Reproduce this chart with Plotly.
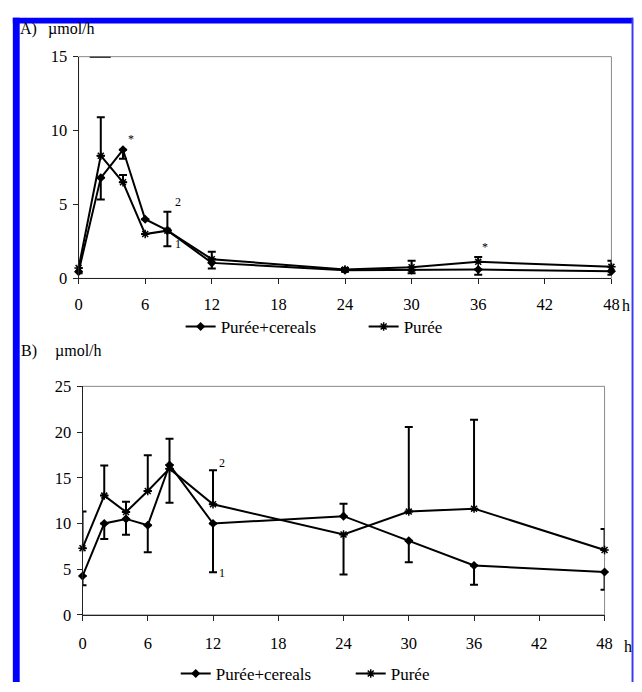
import plotly.graph_objects as go

# ---------------- data ----------------
hours = [0, 2, 4, 6, 8, 12, 24, 30, 36, 48]
x_ticks = [0, 6, 12, 18, 24, 30, 36, 42, 48]

# Panel A (µmol/h)
a_cereals = [0.45, 6.8, 8.7, 4.0, 3.25, 1.05, 0.55, 0.55, 0.6, 0.48]
a_cereals_minus = [0.1, 1.46, 0.6, 0.0, 1.07, 0.38, 0.1, 0.2, 0.36, 0.24]
a_cereals_plus = [0, 0, 0, 0, 0, 0, 0, 0, 0, 0]
a_puree = [0.7, 8.3, 6.5, 3.0, 3.23, 1.3, 0.6, 0.75, 1.12, 0.78]
a_puree_plus = [0.0, 2.6, 0.5, 0.0, 1.27, 0.5, 0.1, 0.45, 0.33, 0.42]
a_puree_minus = [0, 0, 0, 0, 0, 0, 0, 0, 0, 0]
a_y_ticks = [0, 5, 10, 15]

# Panel B (µmol/h)
b_cereals = [4.25, 10.0, 10.5, 9.8, 16.4, 10.0, 10.8, 8.1, 5.4, 4.7]
b_cereals_minus = [1.0, 1.7, 1.72, 2.94, 4.13, 5.34, 0.0, 2.34, 2.1, 1.95]
b_cereals_plus = [0, 0, 0, 0, 0, 0, 1.35, 0, 0, 0]
b_puree = [7.3, 13.05, 11.25, 13.55, 16.0, 12.1, 8.8, 11.3, 11.62, 7.1]
b_puree_plus = [4.0, 3.3, 1.12, 3.9, 3.26, 3.72, 0.0, 9.24, 9.74, 2.3]
b_puree_minus = [0, 0, 0, 0, 0, 0, 4.37, 0, 0, 0]
b_y_ticks = [0, 5, 10, 15, 20, 25]

series_names = ["Purée+cereals", "Purée"]

# ---------------- style ----------------
W, H = 642, 692
FONT = "Liberation Serif"
BLACK = "black"


def px_x(p):
    return p / W


def px_y(p):
    return 1 - p / H


fig = go.Figure()


def add_series(xa, ya, y, plus, minus, name, symbol, legend, msize, mline):
    fig.add_trace(go.Scatter(
        x=hours, y=y, name=name, mode="lines+markers",
        xaxis=xa, yaxis=ya, legend=legend, cliponaxis=False,
        line=dict(color=BLACK, width=2),
        marker=dict(symbol=symbol, size=msize, color=BLACK,
                    line=dict(color=BLACK, width=mline)),
        error_y=dict(type="data", symmetric=False, array=plus,
                     arrayminus=minus, color=BLACK, thickness=2, width=4),
    ))


add_series("x", "y", a_cereals, a_cereals_plus, a_cereals_minus,
           series_names[0], "diamond", "legend", 7, 0)
add_series("x", "y", a_puree, a_puree_plus, a_puree_minus,
           series_names[1], "asterisk-open", "legend", 7, 1.5)
add_series("x2", "y2", b_cereals, b_cereals_plus, b_cereals_minus,
           series_names[0], "diamond", "legend2", 7, 0)
add_series("x2", "y2", b_puree, b_puree_plus, b_puree_minus,
           series_names[1], "asterisk-open", "legend2", 7, 1.5)

axis_common = dict(
    showline=True, linecolor="#222222", linewidth=1, mirror=False,
    ticks="outside", ticklen=5, tickcolor="#222222", tickwidth=1,
    showgrid=False, zeroline=False,
    tickfont=dict(family=FONT, size=16.5, color=BLACK),
)

fig.update_layout(
    width=W, height=H,
    margin=dict(l=0, r=0, t=0, b=0),
    paper_bgcolor="white", plot_bgcolor="white",
    font=dict(family=FONT, color=BLACK),
    xaxis=dict(domain=[px_x(76), px_x(619)], range=[0, 48], tickvals=x_ticks,
               anchor="y", ticklabelstandoff=6, **axis_common),
    yaxis=dict(domain=[px_y(277), px_y(49)], range=[0, 15], tickvals=a_y_ticks,
               anchor="x", ticklabelstandoff=2, **axis_common),
    xaxis2=dict(domain=[px_x(80), px_x(612)], range=[0, 48],
                tickvals=x_ticks, anchor="y2", ticklabelstandoff=8,
                **axis_common),
    yaxis2=dict(domain=[px_y(623), px_y(388)], range=[0, 25],
                tickvals=b_y_ticks, anchor="x2", ticklabelstandoff=2,
                **axis_common),
    legend=dict(orientation="h", x=px_x(180), xanchor="left",
                y=px_y(327), yanchor="middle", entrywidth=138,
                font=dict(family=FONT, size=17, color=BLACK),
                bgcolor="rgba(0,0,0,0)", itemwidth=30),
    legend2=dict(orientation="h", x=px_x(175), xanchor="left",
                 y=px_y(684), yanchor="middle", entrywidth=130,
                 font=dict(family=FONT, size=17, color=BLACK),
                 bgcolor="rgba(0,0,0,0)", itemwidth=30),
    showlegend=True,
)

# plot frames (grey top/right border)
for xr, yr in [("x domain", "y domain"), ("x2 domain", "y2 domain")]:
    fig.add_shape(type="rect", xref=xr, yref=yr, x0=0, x1=1, y0=0, y1=1,
                  line=dict(color="#8a8a8a", width=1), layer="below")

# small artefact line at the top of panel A
fig.add_shape(type="line", xref="x", yref="y", x0=1.0, x1=2.9, y0=15, y1=15,
              line=dict(color=BLACK, width=2))

# blue selection frame
BLUE = "#0000ff"
fig.add_shape(type="rect", xref="paper", yref="paper",
              x0=px_x(9), x1=px_x(16), y0=0, y1=px_y(9),
              fillcolor=BLUE, line=dict(width=0), layer="above")
fig.add_shape(type="rect", xref="paper", yref="paper",
              x0=px_x(9), x1=px_x(641), y0=px_y(15), y1=px_y(9),
              fillcolor=BLUE, line=dict(width=0), layer="above")
fig.add_shape(type="rect", xref="paper", yref="paper",
              x0=px_x(639.5), x1=px_x(641.5), y0=0, y1=px_y(9),
              fillcolor="#3a3af5", line=dict(width=0), layer="above")

text_font = dict(family=FONT, size=16, color=BLACK)
small_font = dict(family=FONT, size=12, color=BLACK)

paper_texts = [
    ("A)", 14, 21), ("µmol/h", 43, 21),
    ("B)", 15, 352), ("µmol/h", 50, 352),
    ("h", 628, 305), ("h", 630, 655),
]
for t, xp, yp in paper_texts:
    fig.add_annotation(text=t, xref="paper", yref="paper", x=px_x(xp),
                       y=px_y(yp), xanchor="left", yanchor="middle",
                       showarrow=False, font=text_font)

data_texts = [
    ("x", "y", "*", 4.7, 9.45), ("x", "y", "2", 9.0, 5.2),
    ("x", "y", "1", 9.0, 2.35), ("x", "y", "*", 36.6, 2.15),
    ("x2", "y2", "*", -0.5, 7.9), ("x2", "y2", "2", 12.8, 16.6),
    ("x2", "y2", "1", 12.8, 4.6),
]
for xr, yr, t, xv, yv in data_texts:
    fig.add_annotation(text=t, xref=xr, yref=yr, x=xv, y=yv,
                       xanchor="center", yanchor="middle",
                       showarrow=False, font=small_font)

fig.write_html(
    "out.html",
    config={"displayModeBar": False},
    post_script="document.body.style.margin='0';"
                "document.body.style.overflow='hidden';",
)
